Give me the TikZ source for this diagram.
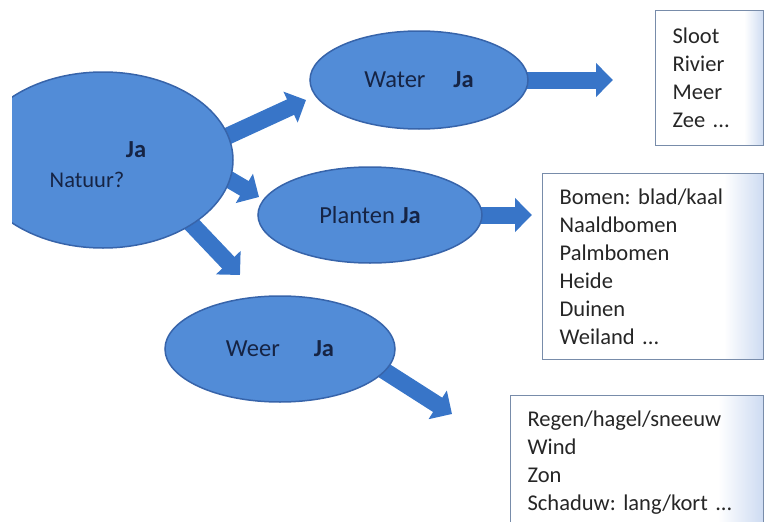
\documentclass[tikz,border=0pt]{standalone}
\usepackage{fontspec}
\setmainfont{Carlito}
\usetikzlibrary{shapes.geometric, arrows.meta, backgrounds}
\definecolor{ellipsblauw}{RGB}{82,140,215}
\definecolor{randblauw}{RGB}{55,100,170}
\definecolor{pijlblauw}{RGB}{56,117,200}
\definecolor{inktblauw}{RGB}{22,36,68}
\definecolor{lijstrand}{RGB}{120,140,170}
\definecolor{lijsttint}{RGB}{205,219,242}
\pgfdeclarehorizontalshading{lijstschaduw}{100bp}{color(0bp)=(white); color(25bp)=(white); color(66bp)=(white); color(75bp)=(lijsttint); color(100bp)=(lijsttint)}
\newcommand{\bolfont}{\frenchspacing\fontsize{24.5}{30}\selectfont}
\newcommand{\lijstfont}{\frenchspacing\fontsize{22.5}{28}\selectfont}
\tikzset{
  bol/.style={ellipse, draw=randblauw, line width=1.5pt, fill=ellipsblauw, inner sep=0pt, text=inktblauw, font=\bolfont},
  boltekst/.style={text=inktblauw, font=\bolfont, inner sep=0pt},
  blokpijl/.style={pijlblauw, line width=17pt, shorten <=-12pt, -{Triangle[length=17pt 0 1, width=33pt 0 1]}},
  lijst/.style={draw=lijstrand, line width=1.2pt, shade, shading=lijstschaduw, anchor=north west, align=left,
    inner xsep=17pt, inner ysep=0pt, font=\lijstfont, text=black!85},
}

\begin{document}
\begin{tikzpicture}[x=1pt, y=-1pt]
    \useasboundingbox (0,0) rectangle (766,522);
    \clip (12,0) rectangle (766,522);
    % Bollen
    \node[bol, minimum width=260pt, minimum height=176pt] (natuur) at (103,160) {};
    \node[boltekst, font=\bolfont\bfseries] (natuurja) at (136,150) {Ja};
    \node[boltekst, font=\fontsize{22.5}{28}\selectfont] (natuurvraag) at (87,180) {Natuur?};
    \node[bol, minimum width=218pt, minimum height=98pt] (water) at (419,80) {Water\hspace{28pt}\textbf{Ja}};
    \node[bol, minimum width=224pt, minimum height=96pt] (planten) at (370,215) {Planten \textbf{Ja}};
    \node[bol, minimum width=230pt, minimum height=106pt] (weer) at (280,349) {Weer\hspace{34pt}\textbf{Ja}};
    % Punten van de pijlen
    \coordinate (tipwater) at (306,100);
    \coordinate (tipplanten) at (259,197);
    \coordinate (tipweer) at (240,275);
    \coordinate (tipsloot) at (613,80);
    \coordinate (tipbomen) at (532,215);
    \coordinate (tipregen) at (452,414);
    % Pijlen
    \begin{pgfonlayer}{background}
        \draw[blokpijl] (natuur.11) -- (tipwater);
        \draw[blokpijl] (natuur.-9) -- (tipplanten);
        \draw[blokpijl] (natuur.-36) -- (tipweer);
        \draw[blokpijl] (water.east) -- (tipsloot);
        \draw[blokpijl] (planten.east) -- (tipbomen);
        \draw[blokpijl] (weer.-12) -- (tipregen);
    \end{pgfonlayer}
    % Lijstjes
    \node[lijst, text width=74pt, minimum height=135pt] (sloot) at (655,10) {Sloot\\Rivier\\Meer\\Zee ...};
    \node[lijst, text width=187pt, minimum height=186pt] (bomen) at (542,173) {Bomen: blad/kaal\\Naaldbomen\\Palmbomen\\Heide\\Duinen\\Weiland ...};
    \node[lijst, text width=219pt, minimum height=135pt] (regen) at (510,395) {Regen/hagel/sneeuw\\Wind\\Zon\\Schaduw: lang/kort ...};
\end{tikzpicture}
\end{document}
